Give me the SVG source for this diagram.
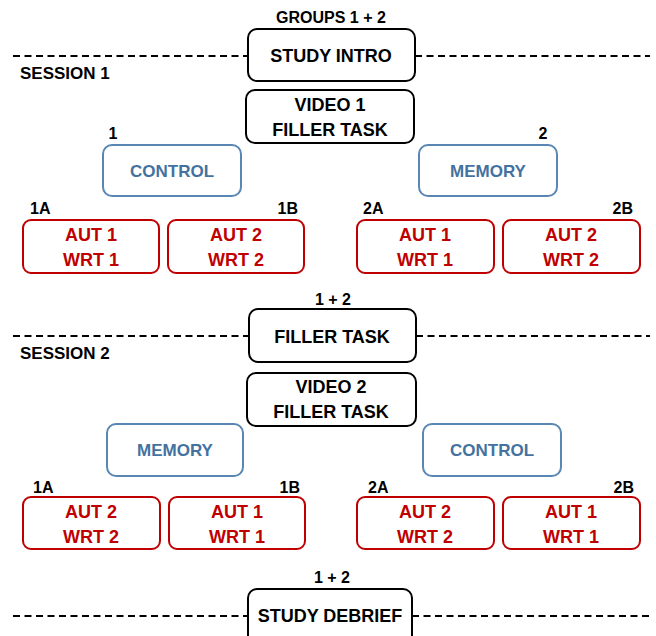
<svg xmlns="http://www.w3.org/2000/svg" width="656" height="636" viewBox="0 0 656 636">
<style>
text{font-family:"Liberation Sans",Arial,sans-serif;font-weight:bold;}
.bk{fill:#fff;stroke:#000;stroke-width:2;}
.bl{fill:#fff;stroke:#5a86b4;stroke-width:2;}
.rd{fill:#fff;stroke:#c00000;stroke-width:2;}
.tb{fill:#000;font-size:18px;text-anchor:middle;}
.tblue{fill:#4472a0;font-size:17px;text-anchor:middle;}
.tr{fill:#c00000;font-size:18px;text-anchor:middle;}
.lab{fill:#000;font-size:16px;}
.sess{fill:#000;font-size:17px;}
.dash{stroke:#000;stroke-width:2;stroke-dasharray:7 4.5;fill:none;}
</style>
<rect width="656" height="636" fill="#fff"/>
<g id="separators">
<line class="dash" x1="13" y1="56" x2="248" y2="56"/>
<line class="dash" x1="415" y1="56" x2="650" y2="56"/>
<line class="dash" x1="13" y1="336" x2="248" y2="336"/>
<line class="dash" x1="416" y1="336" x2="650" y2="336"/>
<line class="dash" x1="13" y1="616" x2="248" y2="616"/>
<line class="dash" x1="412" y1="616" x2="650" y2="616"/>
</g>
<g id="labels">
<text class="lab" x="331" y="23" text-anchor="middle">GROUPS 1 + 2</text>
<text class="sess" x="20" y="79">SESSION 1</text>
<text class="lab" x="113" y="139" text-anchor="middle">1</text>
<text class="lab" x="543" y="139" text-anchor="middle">2</text>
<text class="lab" x="30" y="214">1A</text>
<text class="lab" x="298" y="214" text-anchor="end">1B</text>
<text class="lab" x="363" y="214">2A</text>
<text class="lab" x="633" y="214" text-anchor="end">2B</text>
<text class="lab" x="333" y="305" text-anchor="middle">1 + 2</text>
<text class="sess" x="20" y="359">SESSION 2</text>
<text class="lab" x="33" y="493">1A</text>
<text class="lab" x="300" y="493" text-anchor="end">1B</text>
<text class="lab" x="368" y="493">2A</text>
<text class="lab" x="634" y="493" text-anchor="end">2B</text>
<text class="lab" x="332" y="583" text-anchor="middle">1 + 2</text>
</g>
<g id="study-intro"><rect class="bk" x="248" y="29" width="167" height="52" rx="9"/><text class="tb" x="331" y="62">STUDY INTRO</text></g>
<g id="video1"><rect class="bk" x="246" y="90" width="168" height="53" rx="9"/><text class="tb" x="330" y="111">VIDEO 1</text><text class="tb" x="330" y="136">FILLER TASK</text></g>
<g id="s1-control"><rect class="bl" x="103" y="145" width="138" height="51" rx="9"/><text class="tblue" x="172" y="177">CONTROL</text></g>
<g id="s1-memory"><rect class="bl" x="419" y="145" width="138" height="51" rx="9"/><text class="tblue" x="488" y="177">MEMORY</text></g>
<g id="s1-1A"><rect class="rd" x="23" y="220" width="136" height="53" rx="8"/><text class="tr" x="91" y="241">AUT 1</text><text class="tr" x="91" y="266">WRT 1</text></g>
<g id="s1-1B"><rect class="rd" x="168" y="220" width="136" height="53" rx="8"/><text class="tr" x="236" y="241">AUT 2</text><text class="tr" x="236" y="266">WRT 2</text></g>
<g id="s1-2A"><rect class="rd" x="357" y="220" width="137" height="53" rx="8"/><text class="tr" x="425" y="241">AUT 1</text><text class="tr" x="425" y="266">WRT 1</text></g>
<g id="s1-2B"><rect class="rd" x="503" y="220" width="137" height="53" rx="8"/><text class="tr" x="571" y="241">AUT 2</text><text class="tr" x="571" y="266">WRT 2</text></g>
<g id="filler-task"><rect class="bk" x="249" y="309" width="167" height="53" rx="9"/><text class="tb" x="332" y="343">FILLER TASK</text></g>
<g id="video2"><rect class="bk" x="247" y="373" width="169" height="53" rx="9"/><text class="tb" x="331" y="393">VIDEO 2</text><text class="tb" x="331" y="418">FILLER TASK</text></g>
<g id="s2-memory"><rect class="bl" x="107" y="424" width="136" height="52" rx="9"/><text class="tblue" x="175" y="456">MEMORY</text></g>
<g id="s2-control"><rect class="bl" x="423" y="424" width="138" height="52" rx="9"/><text class="tblue" x="492" y="456">CONTROL</text></g>
<g id="s2-1A"><rect class="rd" x="23" y="497" width="137" height="52" rx="8"/><text class="tr" x="91" y="518">AUT 2</text><text class="tr" x="91" y="543">WRT 2</text></g>
<g id="s2-1B"><rect class="rd" x="169" y="497" width="136" height="52" rx="8"/><text class="tr" x="237" y="518">AUT 1</text><text class="tr" x="237" y="543">WRT 1</text></g>
<g id="s2-2A"><rect class="rd" x="357" y="497" width="137" height="52" rx="8"/><text class="tr" x="425" y="518">AUT 2</text><text class="tr" x="425" y="543">WRT 2</text></g>
<g id="s2-2B"><rect class="rd" x="503" y="497" width="137" height="52" rx="8"/><text class="tr" x="571" y="518">AUT 1</text><text class="tr" x="571" y="543">WRT 1</text></g>
<g id="study-debrief"><rect class="bk" x="248" y="589" width="164" height="60" rx="9"/><text class="tb" x="330" y="622">STUDY DEBRIEF</text></g>
</svg>
